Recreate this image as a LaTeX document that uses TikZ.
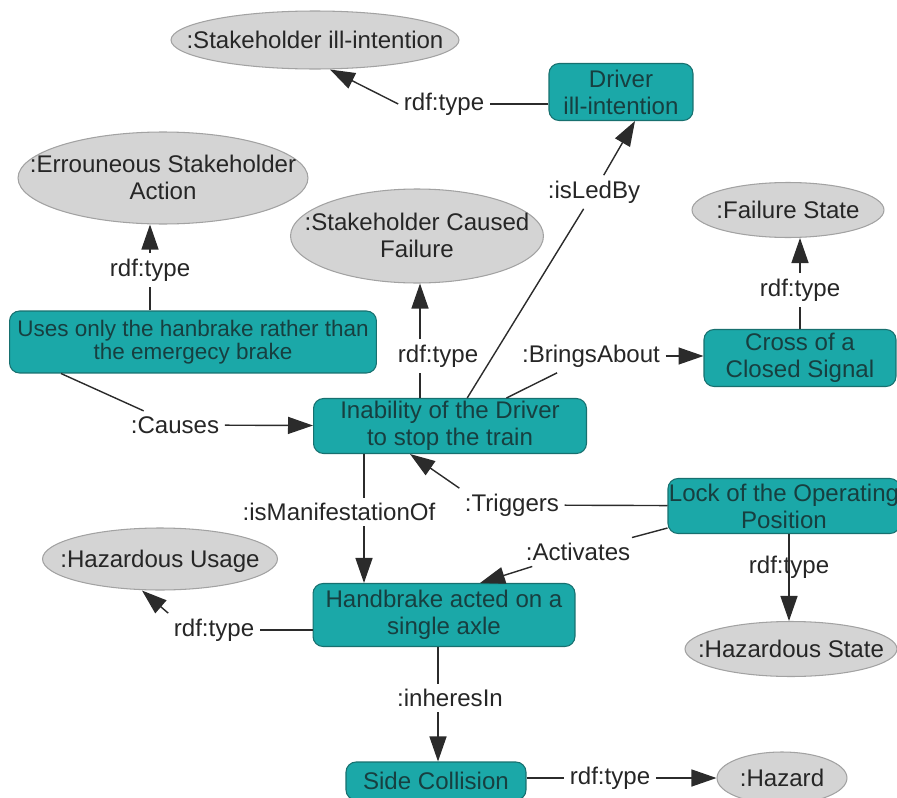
\documentclass[tikz,border=0pt]{standalone}
\usepackage{fontspec}
\setmainfont{Liberation Sans}
\usetikzlibrary{positioning, arrows.meta, shapes.geometric, calc}
\definecolor{tealfill}{HTML}{1BA8A8}
\definecolor{tealedge}{HTML}{17706F}
\definecolor{tealtext}{HTML}{173F40}
\definecolor{greyfill}{HTML}{D4D4D4}
\definecolor{greyedge}{HTML}{A2A2A2}
\definecolor{linecol}{HTML}{2B2B2B}
% text that does not widen the ellipse round it
\newcommand{\clstext}[1]{\makebox[0pt]{\raisebox{-5.2pt}[0pt][0pt]{\begin{tabular}{@{}c@{}}#1\end{tabular}}}}

\begin{document}
\begin{tikzpicture}[
    x=0.02cm, y=-0.02cm,
    font=\fontsize{13.7}{15.3}\selectfont,
    inst/.style={rectangle, draw=tealedge, fill=tealfill, rounded corners=0.2cm,
                 align=center, text=tealtext, inner sep=0pt, line width=0.6pt},
    cls/.style={ellipse, draw=greyedge, fill=greyfill,
                text=black!85, inner sep=0pt, line width=0.6pt},
    lbl/.style={inner sep=3pt, text=black!85},
    link/.style={draw=linecol, line width=0.8pt},
    arrow/.style={link, -{Triangle[length=0.5cm, width=0.34cm]}}
  ]
    \useasboundingbox (0,0) rectangle (897,798);

    % classes and individuals
    \node[cls, minimum width=5.76cm, minimum height=1.16cm] (sill) at (315,40) {\clstext{:Stakeholder ill-intention}};
    \node[inst, minimum width=2.88cm, minimum height=1.14cm] (driver) at (621,92) {Driver\\ill-intention};
    \node[cls, minimum width=5.8cm, minimum height=1.84cm] (erract) at (163,178) {\clstext{:Errouneous Stakeholder\\Action}};
    \node[cls, minimum width=5.06cm, minimum height=1.88cm] (scf) at (417,236) {\clstext{:Stakeholder Caused\\Failure}};
    \node[cls, minimum width=3.84cm, minimum height=1.1cm] (failst) at (788,210) {\clstext{:Failure State}};
    \node[inst, minimum width=7.34cm, minimum height=1.24cm, font=\fontsize{12.8}{13.4}\selectfont]
          (uses) at (193,342) {Uses only the hanbrake rather than\\the emergecy brake};
    \node[inst, minimum width=3.84cm, minimum height=1.14cm] (cross) at (800,358) {Cross of a\\Closed Signal};
    \node[inst, minimum width=5.46cm, minimum height=1.1cm] (inab) at (450,426) {Inability of the Driver\\to stop the train};
    \node[inst, minimum width=4.64cm, minimum height=1.1cm] (lock) at (784,506) {Lock of the Operating\\Position};
    \node[cls, minimum width=4.7cm, minimum height=1.24cm] (hazuse) at (160,559) {\clstext{:Hazardous Usage}};
    \node[inst, minimum width=5.24cm, minimum height=1.26cm] (hand) at (444,615) {Handbrake acted on a\\single axle};
    \node[cls, minimum width=4.24cm, minimum height=1.1cm] (hazst) at (791,649) {\clstext{:Hazardous State}};
    \node[inst, minimum width=3.6cm, minimum height=0.76cm] (side) at (436,781) {Side Collision};
    \node[cls, minimum width=2.6cm, minimum height=1.04cm] (hazard) at (782,778) {\clstext{:Hazard}};

    % edge labels
    \node[lbl] (l1) at (444,104) {rdf:type};
    \node[lbl] (l2) at (150,270) {rdf:type};
    \node[lbl] (l3) at (438,356) {rdf:type};
    \node[lbl] (l4) at (594,192) {:isLedBy};
    \node[lbl] (l5) at (591,356) {:BringsAbout};
    \node[lbl] (l6) at (800,290) {rdf:type};
    \node[lbl] (l7) at (175,425) {:Causes};
    \node[lbl] (l8) at (339,512) {:isManifestationOf};
    \node[lbl] (l9) at (512,505) {:Triggers};
    \node[lbl] (l10) at (578,552) {:Activates};
    \node[lbl] (l11) at (789,567) {rdf:type};
    \node[lbl] (l12) at (214,630) {rdf:type};
    \node[lbl] (l13) at (450,698) {:inheresIn};
    \node[lbl] (l14) at (610,778) {rdf:type};

    \coordinate (m3) at (420,0);
    \coordinate (m8) at (364,0);
    \coordinate (m13) at (438,0);

    % rdf:type links
    \draw[link] (driver.west |- l1) -- (l1);
    \draw[arrow] (l1.west) -- ($(sill.south)+(15,0)$);
    \draw[link] (uses.north -| l2) -- (l2);
    \draw[arrow] (l2) -- (l2 |- erract.south);
    \draw[link] (inab.north -| m3) -- (l3.south -| m3);
    \draw[arrow] (l3.north -| m3) -- (scf.south -| m3);
    \draw[link] (cross.north -| l6) -- (l6);
    \draw[arrow] (l6) -- (l6 |- failst.south);
    \draw[arrow] (lock.south -| l11) -- (l11 |- hazst.north);
    \draw[link] (hand.west |- l12) -- (l12);
    \draw[arrow] (l12.north west) -- ($(hazuse.south)+(-18,0)$);
    \draw[link] (side.east |- l14) -- (l14);
    \draw[arrow] (l14) -- (hazard);

    % relations
    \draw[link] ($(uses.south west)+(52,0)$) -- (l7);
    \draw[arrow] (l7) -- (inab);
    \draw[link] (inab) -- (l4);
    \draw[arrow] (l4) -- ($(driver.south)+(14,0)$);
    \draw[link] (inab) -- (l5);
    \draw[arrow] (l5.east) -- (l5.east -| cross.west);
    \draw[link] (inab.south -| m8) -- (l8.north -| m8);
    \draw[arrow] (l8.south -| m8) -- (hand.north -| m8);
    \draw[link] (lock) -- (l9);
    \draw[arrow] (l9.north west) -- ($(inab.south)+(-40,0)$);
    \draw[link] ($(lock.south west)+(0,-6)$) -- (l10);
    \draw[arrow] (l10) -- ($(hand.north)+(36,0)$);
    \draw[link] (hand.south -| m13) -- (l13.north -| m13);
    \draw[arrow] (l13.south -| m13) -- (side.north -| m13);
\end{tikzpicture}
\end{document}
